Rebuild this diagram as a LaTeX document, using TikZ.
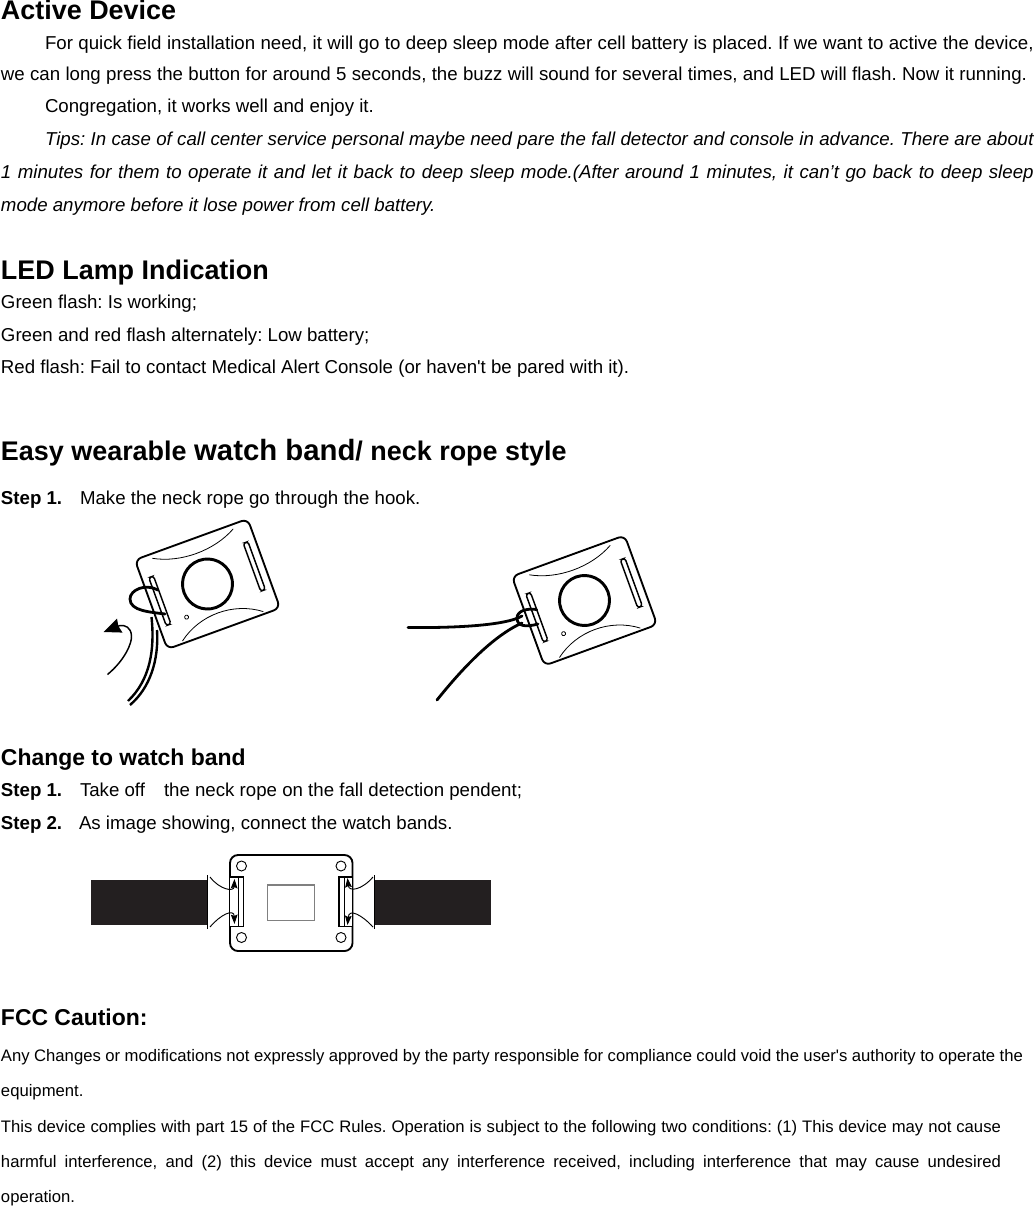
\documentclass[tikz,border=0pt]{standalone}
\usepackage{fontspec}
\setmainfont{Liberation Sans}
\usetikzlibrary{arrows.meta}
\definecolor{bandblack}{RGB}{35,31,32}
\newcommand{\fillto}[2]{\makebox[#1pt][s]{#2}}
\frenchspacing
\tikzset{
	base/.style={anchor=base west, inner sep=0pt, outer sep=0pt},
	bodyline/.style={base, font=\fontsize{14}{16}\selectfont},
	noteline/.style={base, font=\fontsize{14}{16}\selectfont\itshape},
	smallline/.style={base, font=\fontsize{12.5}{14}\selectfont},
	steplabel/.style={base, font=\fontsize{14}{16}\selectfont\bfseries},
	headline/.style={base, font=\fontsize{20.2}{22}\selectfont\bfseries},
	subhead/.style={base, font=\fontsize{17.2}{20}\selectfont\bfseries},
	body/.style={line width=1.4pt, line join=round},
	hair/.style={line width=0.6pt},
	rope/.style={line width=2.1pt, line cap=round},
	strand/.style={line width=1.8pt, line cap=butt},
	bandarrow/.style={line width=0.7pt, -{Stealth[length=7pt, width=5pt, inset=1pt]}},
	pendent/.pic={
		\draw[body, rounded corners=5pt] (-60,-47.5) rectangle (60,47.5);
		\draw[line width=2.2pt] (0,0) circle (25);
		\draw[line width=1.1pt, rounded corners=2pt] (47.5,-26) rectangle (52.5,25);
		\draw[line width=1.1pt, rounded corners=2pt] (-53,-26) rectangle (-48,25);
		\draw[hair] (-31,24) circle (2);
		\draw[hair] (-43,-43) .. controls (-18,-29) and (18,-29) .. (43,-43);
		\draw[hair] (-43,45) .. controls (-18,26) and (18,26) .. (43,45);
	},
}
\begin{document}
\begin{tikzpicture}[x=0.75pt, y=-0.75pt]
	\useasboundingbox (0,0) rectangle (1034,1206);
	%%%%% START %%%%%

	\node[headline] (title1) at (1,20) {Active Device};
	\node[bodyline] (p1a) at (45,50) {\fillto{741.5}{For quick field installation need, it will go to deep sleep mode after cell battery is placed. If we want to active the device,}};
	\node[bodyline] (p1b) at (1,80) {\fillto{769.5}{we can long press the button for around 5 seconds, the buzz will sound for several times, and LED will flash. Now it running.}};
	\node[bodyline] (p2) at (45,113) {Congregation, it works well and enjoy it.};
	\node[noteline] (p3a) at (45,145) {\fillto{741.5}{Tips: In case of call center service personal maybe need pare the fall detector and console in advance. There are about}};
	\node[noteline] (p3b) at (1,178) {\fillto{774.5}{1 minutes for them to operate it and let it back to deep sleep mode.(After around 1 minutes, it can’t go back to deep sleep}};
	\node[noteline] (p3c) at (1,211) {mode anymore before it lose power from cell battery.};

	\node[headline] (title2) at (1,279) {LED Lamp Indication};
	\node[bodyline] (led1) at (1,308) {Green flash: Is working;};
	\node[bodyline] (led2) at (1,341) {Green and red flash alternately: Low battery;};
	\node[bodyline] (led3) at (1,373) {Red flash: Fail to contact Medical Alert Console (or haven\textquotesingle t be pared with it).};

	\node[headline] (title3) at (1,460) {Easy wearable {\fontsize{22}{24}\selectfont watch band}/ neck rope style};
	\node[steplabel] (steplabel1) at (1,504) {Step 1.};
	\node[bodyline] (steptext1) at (80,504) {Make the neck rope go through the hook.};

	% first pendent, rope loop and arrow
	\pic[rotate=20] at (207.5,584) {pendent};
	\draw[rope] (158,590) .. controls (145,583) and (130,590) .. (130,599) .. controls (130,611) and (150,612) .. (165,614);
	\draw[strand] (151.5,617) .. controls (155,650) and (150,680) .. (128,701);
	\draw[strand] (157,630) .. controls (159,660) and (150,688) .. (130,705);
	\draw[line width=1.1pt, -{Stealth[length=13pt, width=11pt, inset=1pt]}] (107.5,674.5) .. controls (125,660) and (132,643) .. (131.5,636) .. controls (131,627) and (125,625) .. (120,625.5) -- (103.5,632);

	% second pendent, with the rope through it
	\pic[rotate=20] at (584.5,600.5) {pendent};
	\draw[rope] (536.5,609.5) .. controls (527,608) and (517,611) .. (517,618) .. controls (517,627) and (527,627) .. (538,624);
	\draw[rope] (408,627.5) .. controls (450,628) and (505,626) .. (522,616);
	\draw[rope] (437,700) .. controls (465,665) and (495,635) .. (522,623);

	\node[subhead] (title4) at (1,765) {Change to watch band};
	\node[steplabel] (steplabel2) at (1,796) {Step 1.};
	\node[bodyline] (steptext2) at (80,796) {Take off};
	\node[bodyline] (steptext3) at (164,796) {the neck rope on the fall detection pendent;};
	\node[steplabel] (steplabel3) at (1,829) {Step 2.};
	\node[bodyline] (steptext4) at (79,829) {As image showing, connect the watch bands.};

	% back of the pendent with the two bands
	\fill[bandblack] (91,879.5) rectangle (207,925);
	\fill[bandblack] (373.5,879.5) rectangle (491,925);
	\draw[hair] (207.5,875) -- (207.5,929);
	\draw[hair] (374.5,875) -- (374.5,929);
	\draw[body, rounded corners=6pt] (230,855) rectangle (352.5,951);
	\draw[line width=0.8pt, draw=black!50] (267.5,885) rectangle (314.5,920.5);
	\foreach \hx/\hy in {241.5/866, 341/866, 241.5/937.5, 341/937.5}
		\draw[line width=0.7pt] (\hx,\hy) circle (5);
	\draw[line width=1pt, fill=white] (229.5,877) rectangle (243.5,926.5);
	\draw[line width=1pt, fill=white] (339,877) rectangle (352.5,926.5);
	\draw[line width=0.7pt] (238.5,877) -- (238.5,926.5);
	\draw[line width=0.7pt] (344.5,877) -- (344.5,926.5);
	\draw[bandarrow] (210,877) .. controls (220,890) and (234,892) .. (234.5,879);
	\draw[bandarrow] (210,927) .. controls (220,915) and (234,908) .. (234.5,924);
	\draw[bandarrow] (373,877) .. controls (362,890) and (349,892) .. (347.5,878);
	\draw[bandarrow] (373,927) .. controls (362,915) and (349,908) .. (347.5,925);

	\node[subhead] (title5) at (1,1025) {FCC Caution:};
	\node[smallline] (fcc1) at (1,1061) {\fillto{766.5}{Any Changes or modifications not expressly approved by the party responsible for compliance could void the user\textquotesingle s authority to operate the}};
	\node[smallline] (fcc2) at (1,1096) {equipment.};
	\node[smallline] (fcc3) at (1,1132) {\fillto{750}{This device complies with part 15 of the FCC Rules. Operation is subject to the following two conditions: (1) This device may not cause}};
	\node[smallline] (fcc4) at (1,1167) {\fillto{750}{harmful interference, and (2) this device must accept any interference received, including interference that may cause undesired}};
	\node[smallline] (fcc5) at (1,1202) {operation.};

	%%%%% END %%%%%
\end{tikzpicture}
\end{document}
